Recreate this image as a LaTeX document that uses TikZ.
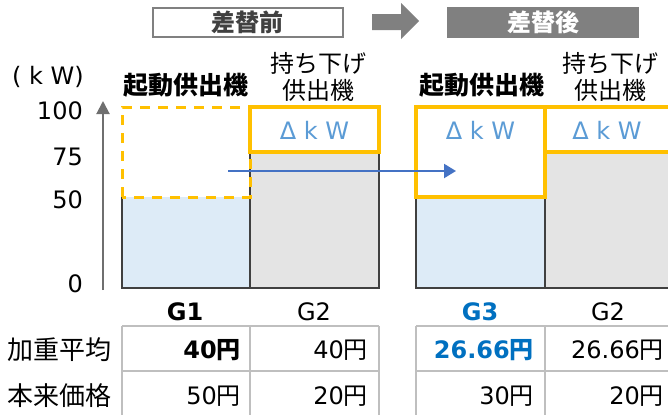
\documentclass[tikz,border=0pt]{standalone}
\usepackage{fontspec}
\setmainfont{DejaVu Sans}
\newfontfamily\jp{Noto Sans CJK JP}
\usetikzlibrary{arrows.meta}

\definecolor{dkwyellow}{HTML}{FFC000}
\definecolor{dkwblue}{HTML}{5B9BD5}
\definecolor{arrowblue}{HTML}{4472C4}
\definecolor{g3blue}{HTML}{0070C0}
\definecolor{g1blue}{HTML}{DDEBF7}
\definecolor{g2gray}{HTML}{E4E4E4}
\definecolor{barline}{HTML}{404040}
\definecolor{tabgray}{HTML}{BFBFBF}
\definecolor{hdgray}{HTML}{808080}
\definecolor{hdtext}{HTML}{404040}
\definecolor{axisgray}{HTML}{6F6F6F}

\newcommand\yenj{{\jp 円}}

\begin{document}
\begin{tikzpicture}[x=1pt,y=-1pt,>=latex,
	every node/.style={inner sep=0pt,font=\fontsize{24}{28}\selectfont},
	barborder/.style={draw=barline,line width=1.2pt},
	dkwbox/.style={draw=dkwyellow,line width=4pt},
	dkwdash/.style={draw=dkwyellow,line width=3pt,dash pattern=on 10pt off 8pt},
	tabline/.style={draw=tabgray,line width=1.2pt},
	dkw/.style={text=dkwblue},
	val/.style={anchor=east},
	jptext/.style={font=\fontsize{24}{27}\selectfont\jp,align=center},
	jpbold/.style={font=\fontsize{25}{28}\selectfont\jp\bfseries}]
	
	\clip (0,0) rectangle (668,415);
	
	% headers
	\node[draw=hdgray,line width=2pt,minimum width=190pt,minimum height=29pt,
		text=hdtext,font=\fontsize{24}{26}\selectfont\jp\bfseries] (mae) at (247.5,22) {差替前};
	\node[fill=hdgray,minimum width=192pt,minimum height=31pt,
		text=white,font=\fontsize{24}{26}\selectfont\jp\bfseries] (ato) at (543,22) {差替後};
	\fill[hdgray] (372,14) -- (401,14) -- (401,3) -- (419,21) -- (401,39) -- (401,30) -- (372,30) -- cycle;
	
	% axis
	\coordinate (ybot) at (103,290);
	\coordinate (ytop) at (103,101);
	\draw[axisgray,line width=2pt,-{Triangle[length=13pt,width=13pt]}] (ybot) -- (ytop);
	\node (unit) at (48,77) {( k W)};
	\node[val] (t100) at (83,111) {100};
	\node[val] (t75) at (83,157) {75};
	\node[val] (t50) at (83,200) {50};
	\node[val] (t0) at (83,284) {0};
	
	% before
	\node[jpbold] (kidou1) at (186,85) {起動供出機};
	\node[jptext] (mochi1) at (318,77) {持ち下げ\\供出機};
	\fill[g1blue] (122,197) rectangle (250,288);
	\draw[barborder] (122,197) |- (250,288);
	\draw[barborder,fill=g2gray] (250,152) rectangle (379,288);
	\draw[dkwdash] (122,197) -- (122,107) -- (250,107) -- (250,197) -- cycle;
	\draw[dkwbox] (250,107) rectangle (379,152);
	\node[dkw] (dkw1) at (314.5,130) {Δ k W};
	
	% after
	\node[jpbold] (kidou2) at (482,85) {起動供出機};
	\node[jptext] (mochi2) at (610,77) {持ち下げ\\供出機};
	\fill[g1blue] (416,197) rectangle (545,288);
	\draw[barborder] (416,197) |- (545,288);
	\draw[barborder,fill=g2gray] (545,152) rectangle (690,288);
	\draw[dkwbox] (416,107) rectangle (545,197);
	\draw[dkwbox] (545,107) rectangle (690,152);
	\node[dkw] (dkw2) at (480.5,130) {Δ k W};
	\node[dkw] (dkw3) at (607,130) {Δ k W};
	
	\coordinate (from) at (228,171);
	\coordinate (to) at (456,171);
	\draw[arrowblue,line width=2.2pt,-{Triangle[length=12pt,width=14pt]}] (from) -- (to);
	
	% generators
	\node[font=\fontsize{24}{28}\selectfont\bfseries] (g1) at (185,312) {G1};
	\node (g2a) at (314,312) {G2};
	\node[text=g3blue,font=\fontsize{24}{28}\selectfont\bfseries] (g3) at (480,312) {G3};
	\node (g2b) at (608,312) {G2};
	
	% table
	\draw[tabline] (122,326) -- (379,326) (122,371) -- (379,371)
		(122,326) -- (122,415) (250,326) -- (250,415) (379,326) -- (379,415);
	\draw[tabline] (416,326) -- (690,326) (416,371) -- (690,371)
		(416,326) -- (416,415) (545,326) -- (545,415);
	
	\node[font=\fontsize{26}{28}\selectfont\jp] (heikin) at (59,350) {加重平均};
	\node[font=\fontsize{26}{28}\selectfont\jp] (honrai) at (59,396) {本来価格};
	
	\node[val,font=\fontsize{24}{28}\selectfont\bfseries] (h1) at (241,350) {40{\jp\bfseries 円}};
	\node[val] (h2) at (368,350) {40\yenj};
	\node[val,text=g3blue,font=\fontsize{24}{28}\selectfont\bfseries] (h3) at (534,350) {26.66{\jp\bfseries 円}};
	\node[val] (h4) at (664,350) {26.66\yenj};
	
	\node[val] (p1) at (241,396) {50\yenj};
	\node[val] (p2) at (368,396) {20\yenj};
	\node[val] (p3) at (534,396) {30\yenj};
	\node[val] (p4) at (664,396) {20\yenj};
	
\end{tikzpicture}
\end{document}
